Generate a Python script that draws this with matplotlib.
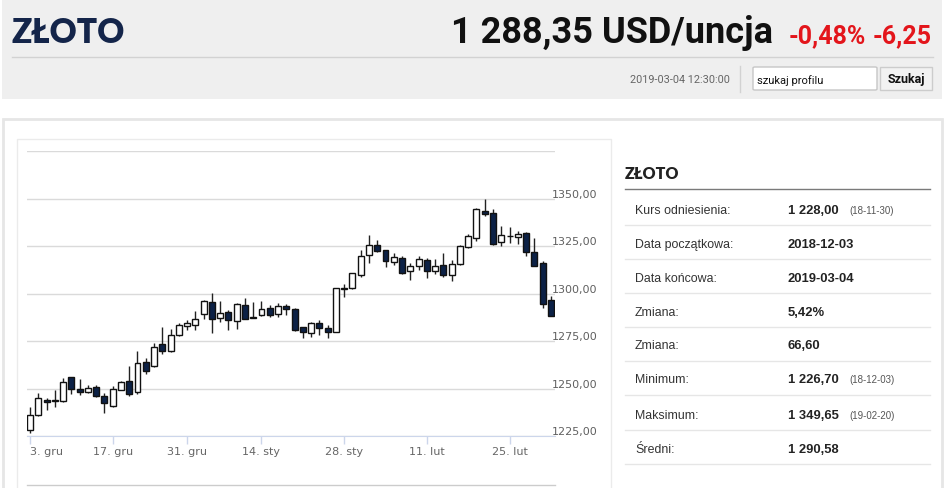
import matplotlib
matplotlib.use('Agg')
import matplotlib.pyplot as plt
from matplotlib import font_manager
from matplotlib.patches import Rectangle, FancyBboxPatch
from matplotlib.lines import Line2D

# trading days shown on the chart
dates = [
    '2018-12-03', '2018-12-04', '2018-12-05', '2018-12-06', '2018-12-07',
    '2018-12-10', '2018-12-11', '2018-12-12', '2018-12-13', '2018-12-14',
    '2018-12-17', '2018-12-18', '2018-12-19', '2018-12-20', '2018-12-21',
    '2018-12-24', '2018-12-26', '2018-12-27', '2018-12-28', '2018-12-31',
    '2019-01-02', '2019-01-03', '2019-01-04', '2019-01-07', '2019-01-08',
    '2019-01-09', '2019-01-10', '2019-01-11', '2019-01-14', '2019-01-15',
    '2019-01-16', '2019-01-17', '2019-01-18', '2019-01-21', '2019-01-22',
    '2019-01-23', '2019-01-24', '2019-01-25', '2019-01-28', '2019-01-29',
    '2019-01-30', '2019-01-31', '2019-02-01', '2019-02-04', '2019-02-05',
    '2019-02-06', '2019-02-07', '2019-02-08', '2019-02-11', '2019-02-12',
    '2019-02-13', '2019-02-14', '2019-02-15', '2019-02-18', '2019-02-19',
    '2019-02-20', '2019-02-21', '2019-02-22', '2019-02-25', '2019-02-26',
    '2019-02-27', '2019-02-28', '2019-03-01', '2019-03-04',
]

opens = [1228.5, 1236.2, 1244.3, 1243.6, 1243.3, 1256.1, 1249.9, 1248.2, 1251.0, 1246.4,
         1240.8, 1249.4, 1254.0, 1248.2, 1264.0, 1261.7, 1273.5, 1269.6, 1278.0, 1282.8,
         1283.3, 1289.1, 1295.6, 1287.2, 1290.3, 1285.6, 1294.2, 1287.4, 1288.6, 1292.6,
         1289.1, 1293.5, 1292.1, 1282.6, 1279.4, 1284.7, 1282.1, 1280.0, 1302.4, 1302.9,
         1309.9, 1320.5, 1325.8, 1323.1, 1316.4, 1318.7, 1311.7, 1314.3, 1317.9, 1311.7,
         1314.9, 1309.6, 1315.6, 1324.4, 1329.3, 1343.4, 1342.5, 1327.0, 1330.2, 1329.8,
         1332.0, 1321.9, 1316.1, 1296.7]
highs = [1240.3, 1247.8, 1245.0, 1249.6, 1255.7, 1256.1, 1255.2, 1252.0, 1252.0, 1247.8,
         1251.3, 1254.0, 1262.2, 1270.1, 1266.1, 1274.0, 1282.4, 1281.5, 1284.5, 1286.3,
         1290.7, 1296.8, 1300.3, 1296.1, 1291.2, 1295.1, 1297.9, 1295.6, 1296.1, 1293.8,
         1295.1, 1294.4, 1292.6, 1282.6, 1285.3, 1286.1, 1283.5, 1303.2, 1305.0, 1310.8,
         1323.1, 1330.7, 1328.1, 1323.1, 1321.4, 1319.6, 1316.1, 1320.0, 1318.7, 1318.4,
         1321.4, 1317.9, 1325.8, 1331.1, 1344.8, 1349.65, 1344.3, 1335.8, 1335.0, 1332.8,
         1332.3, 1329.3, 1317.0, 1298.8]
lows = [1226.7, 1235.9, 1239.0, 1240.3, 1242.9, 1247.3, 1246.8, 1247.8, 1245.5, 1237.3,
        1240.3, 1249.1, 1246.1, 1247.3, 1257.7, 1261.3, 1268.2, 1269.3, 1277.7, 1280.7,
        1280.7, 1286.8, 1279.3, 1285.1, 1280.7, 1281.2, 1286.5, 1287.2, 1288.0, 1287.7,
        1287.7, 1288.9, 1280.1, 1276.8, 1277.3, 1278.2, 1276.5, 1279.6, 1298.0, 1302.5,
        1309.0, 1316.1, 1321.9, 1313.8, 1315.2, 1310.3, 1307.3, 1312.6, 1308.2, 1310.3,
        1309.0, 1306.8, 1315.2, 1324.0, 1327.5, 1340.8, 1325.8, 1324.9, 1326.7, 1326.3,
        1319.6, 1314.3, 1292.3, 1288.0]
closes = [1236.2, 1245.0, 1242.9, 1244.1, 1253.8, 1249.9, 1248.5, 1250.3, 1246.4, 1242.4,
          1249.9, 1253.4, 1247.0, 1263.6, 1259.1, 1272.2, 1269.6, 1278.0, 1283.6, 1284.5,
          1286.5, 1296.1, 1286.5, 1290.0, 1285.9, 1294.5, 1286.8, 1287.7, 1292.1, 1288.9,
          1293.5, 1291.7, 1280.7, 1279.6, 1284.7, 1282.1, 1280.0, 1302.9, 1302.9, 1310.8,
          1319.6, 1325.8, 1322.6, 1317.0, 1319.3, 1310.8, 1314.3, 1318.2, 1311.7, 1314.3,
          1309.6, 1315.6, 1325.3, 1330.2, 1344.6, 1342.0, 1326.3, 1330.7, 1330.5, 1331.1,
          1321.9, 1314.7, 1294.6, 1288.35]

tick_dates = ['2018-12-03', '2018-12-17', '2018-12-31', '2019-01-14',
              '2019-01-28', '2019-02-11', '2019-02-25']
tick_labels = ['3. gru', '17. gru', '31. gru', '14. sty', '28. sty', '11. lut', '25. lut']
y_levels = [1225, 1250, 1275, 1300, 1325, 1350, 1375]

# side table
row_labels = ['Kurs odniesienia:', 'Data początkowa:', 'Data końcowa:', 'Zmiana:',
              'Zmiana:', 'Minimum:', 'Maksimum:', 'Średni:']
row_values = ['1 228,00', '2018-12-03', '2019-03-04', '5,42%', '66,60',
              '1 226,70', '1 349,65', '1 290,58']
row_notes = ['(18-11-30)', '', '', '', '', '(18-12-03)', '(19-02-20)', '']

W, H = 945, 489
names = {f.name for f in font_manager.fontManager.ttflist}
narrow = 'Liberation Sans Narrow' if 'Liberation Sans Narrow' in names else 'Roboto'
head = 'Lato' if 'Lato' in names else 'DejaVu Sans'
body = 'Liberation Sans' if 'Liberation Sans' in names else 'DejaVu Sans'

fig = plt.figure(figsize=(W / 100, H / 100), dpi=100)
fig.patch.set_facecolor('white')


def px(x):
    return x / W


def py(y):
    return 1 - y / H


def box(x0, y0, x1, y1, **kw):
    fig.patches.append(Rectangle((px(x0), py(y1)), px(x1) - px(x0), py(y0) - py(y1),
                                 transform=fig.transFigure, **kw))


def hline(x0, x1, y, color, lw=1.0):
    fig.lines.append(Line2D([px(x0), px(x1)], [py(y), py(y)], transform=fig.transFigure,
                            color=color, lw=lw))


# header band
box(2, 0, 942, 100, facecolor='#efefef', edgecolor='none')
hline(12, 933, 58, '#d2d2d2')
fig.lines.append(Line2D([px(740), px(740)], [py(67), py(93)], transform=fig.transFigure,
                        color='#d2d2d2', lw=1))
fig.text(px(12), py(43), 'ZŁOTO', family=head, weight='heavy', fontsize=24,
         color='#14254a', va='baseline')
fig.text(px(773), py(43), '1 288,35 USD/uncja', family=narrow, weight='bold', fontsize=26,
         color='#111111', ha='right', va='baseline')
fig.text(px(866), py(43), '-0,48%', family=narrow, weight='bold', fontsize=18,
         color='#e3151b', ha='right', va='baseline')
fig.text(px(932), py(43), '-6,25', family=narrow, weight='bold', fontsize=18,
         color='#e3151b', ha='right', va='baseline')
fig.text(px(730), py(83), '2019-03-04 12:30:00', family=narrow, fontsize=7.8,
         color='#666666', ha='right', va='baseline')
fig.patches.append(FancyBboxPatch((px(753), py(91)), px(124), 23 / H,
                                  boxstyle='round,pad=0,rounding_size=0.002',
                                  transform=fig.transFigure, facecolor='white',
                                  edgecolor='#c6c6c6', lw=1))
fig.text(px(757), py(83.5), 'szukaj profilu', family=narrow, fontsize=8,
         color='#111111', va='baseline')
box(880, 68, 932, 91, facecolor='#f2f2f2', edgecolor='#cccccc', lw=1)
fig.text(px(906), py(83.5), 'Szukaj', family=narrow, weight='bold', fontsize=9,
         color='#111111', ha='center', va='baseline')

# panels
box(3, 120, 942, 520, facecolor='none', edgecolor='#e6e6e6', lw=2)
box(17, 140, 611, 520, facecolor='none', edgecolor='#ebebeb', lw=1)

# candlestick chart
ax = fig.add_axes([px(26.7), py(437.3), px(555) - px(26.7), py(152) - py(437.3)])
xs = list(range(len(dates)))
up = [c >= o for o, c in zip(opens, closes)]
bottoms = [min(o, c) for o, c in zip(opens, closes)]
heights = [abs(c - o) for o, c in zip(opens, closes)]
ax.vlines(xs, lows, highs, color='#222222', lw=1.0, zorder=2)
ax.bar(xs, heights, bottom=bottoms, width=0.72,
       color=['white' if u else '#0c2146' for u in up],
       edgecolor='#111111', linewidth=1.0, zorder=3)

ax.set_xlim(-0.4, 63.5)
ax.set_ylim(1225, 1375)
ax.set_yticks(y_levels, [f'{v:.2f}'.replace('.', ',') if v < 1375 else '' for v in y_levels])
ax.yaxis.tick_right()
ax.tick_params(axis='y', length=0, pad=-2, labelsize=8, labelcolor='#606060')
for lab in ax.get_yticklabels():
    lab.set_verticalalignment('bottom')
ax.grid(axis='y', color='#dadada', lw=1.0)
ax.set_axisbelow(True)
ax.set_xticks([dates.index(d) for d in tick_dates], tick_labels)
ax.tick_params(axis='x', length=6, width=1, color='#ccd6eb', pad=1,
               labelsize=8, labelcolor='#666666')
ax.get_xticklabels()[0].set_horizontalalignment('left')
for side in ['top', 'left', 'right']:
    ax.spines[side].set_visible(False)
ax.spines['bottom'].set_color('#ccd6eb')
ax.set_facecolor('none')

# navigator strip at the bottom edge
hline(27, 555, 486, '#cccccc')

# side table
fig.text(px(625), py(179), 'ZŁOTO', family=head, weight='heavy', fontsize=11.5,
         color='#222222', va='baseline')
hline(625, 930, 190, '#7a7a7a')
row_y = [209.3, 243.3, 277.3, 311.0, 344.7, 378.7, 414.3, 448.3]
line_y = [226, 260, 294, 327.7, 361.7, 395.7, 431, 465]
for yc, yl, lab, val, note in zip(row_y, line_y, row_labels, row_values, row_notes):
    fig.text(px(635), py(yc + 4.6), lab, family=body, fontsize=8.9, color='#333333',
             va='baseline')
    fig.text(px(788), py(yc + 4.6), val, family=body, weight='bold', fontsize=9.4,
             color='#222222', va='baseline')
    if note:
        fig.text(px(849), py(yc + 4.6), note, family=body, fontsize=7,
                 color='#555555', va='baseline')
    hline(625, 930, yl, '#e6e6e6')

fig.savefig('out.png', dpi=100)
